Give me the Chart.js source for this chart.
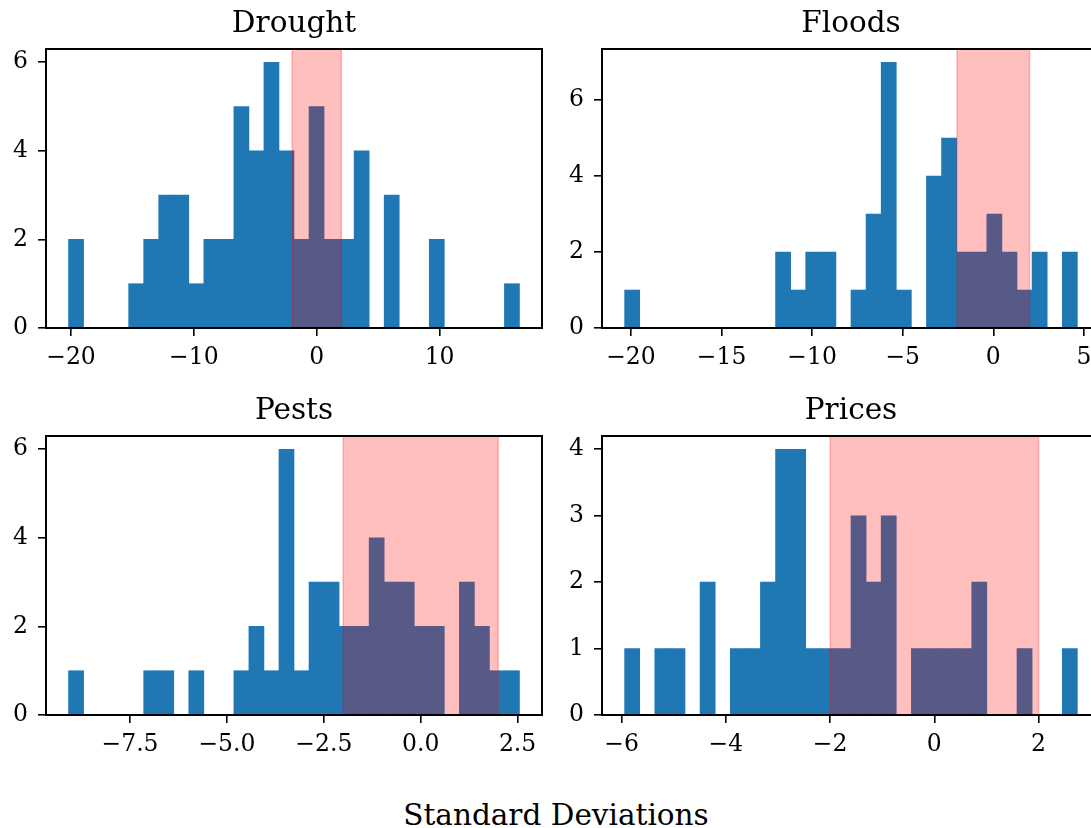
<!DOCTYPE html>
<html>
<head>
<meta charset="utf-8">
<script src="https://cdn.jsdelivr.net/npm/chart.js@4.4.1/dist/chart.umd.min.js"></script>
<style>
  html, body { margin: 0; padding: 0; background: #fff; overflow: hidden; width: 1091px; height: 828px; }
  .panel { position: absolute; width: 560px; height: 380px; }
  #xlabel { position: absolute; left: 0; width: 1112px; top: 801px; text-align: center;
            font-family: 'DejaVu Serif', serif; font-size: 29.5px; line-height: 28px; color: #000; }
</style>
</head>
<body>
<div class="panel" style="left:0;top:0"><canvas id="drought"></canvas></div>
<div class="panel" style="left:560px;top:0"><canvas id="floods"></canvas></div>
<div class="panel" style="left:0;top:387px"><canvas id="pests"></canvas></div>
<div class="panel" style="left:560px;top:387px"><canvas id="prices"></canvas></div>
<div id="xlabel">Standard Deviations</div>
<script>
// histogram counts, 30 bins per panel
const droughtCounts = [2, 0, 0, 0, 1, 2, 3, 3, 1, 2, 2, 5, 4, 6, 4, 2, 5, 2, 2, 4, 0, 3, 0, 0, 2, 0, 0, 0, 0, 1];
const floodsCounts  = [1, 0, 0, 0, 0, 0, 0, 0, 0, 0, 2, 1, 2, 2, 0, 1, 3, 7, 1, 0, 4, 5, 2, 2, 3, 2, 1, 2, 0, 2];
const pestsCounts   = [1, 0, 0, 0, 0, 1, 1, 0, 1, 0, 0, 1, 2, 1, 6, 1, 3, 3, 2, 2, 4, 3, 3, 2, 2, 0, 3, 2, 1, 1];
const pricesCounts  = [1, 0, 1, 1, 0, 2, 0, 1, 1, 2, 4, 4, 1, 1, 1, 3, 2, 3, 0, 1, 1, 1, 1, 2, 0, 0, 1, 0, 0, 1];

// first and last bin edge of each histogram
const droughtEdges = [-20.2, 16.5];
const floodsEdges  = [-20.35, 4.64];
const pestsEdges   = [-9.086, 2.548];
const pricesEdges  = [-5.942, 2.744];

// tick labels
const droughtXTicks = [-20, -10, 0, 10];
const floodsXTicks  = [-20, -15, -10, -5, 0, 5];
const pestsXTicks   = [-7.5, -5, -2.5, 0, 2.5];
const pricesXTicks  = [-6, -4, -2, 0, 2];
const droughtYTicks = [0, 2, 4, 6];
const floodsYTicks  = [0, 2, 4, 6];
const pestsYTicks   = [0, 2, 4, 6];
const pricesYTicks  = [0, 1, 2, 3, 4];

// shaded band (+/- 2 standard deviations)
const band = [-2, 2];

Chart.defaults.font.family = "'DejaVu Serif', serif";
Chart.defaults.color = '#000';

const minus = (s) => String(s).replace('-', '\u2212');

// red band drawn over the bars, then the axes box
const bandPlugin = {
  id: 'band',
  afterDatasetsDraw(chart) {
    const {ctx, chartArea, scales} = chart;
    const x1 = scales.x.getPixelForValue(band[0]);
    const x2 = scales.x.getPixelForValue(band[1]);
    ctx.save();
    ctx.beginPath();
    ctx.rect(chartArea.left, chartArea.top, chartArea.width, chartArea.height);
    ctx.clip();
    ctx.fillStyle = 'rgba(255,0,0,0.25)';
    ctx.fillRect(x1, chartArea.top, x2 - x1, chartArea.height);
    ctx.strokeStyle = 'rgba(255,0,0,0.25)';
    ctx.lineWidth = 1.5;
    ctx.strokeRect(x1, chartArea.top, x2 - x1, chartArea.height);
    ctx.restore();
  },
  afterDraw(chart) {
    const {ctx, chartArea} = chart;
    ctx.save();
    ctx.strokeStyle = '#000';
    ctx.lineWidth = 2;
    ctx.strokeRect(chartArea.left, chartArea.top, chartArea.width, chartArea.height);
    ctx.restore();
  }
};

function histogram(id, title, counts, edges, xTicks, yTicks, decimals, yAxisWidth, padRight) {
  const n = counts.length;
  const w = (edges[1] - edges[0]) / n;
  const pts = counts.map((c, i) => ({x: edges[0] + (i + 0.5) * w, y: c}));
  const span = edges[1] - edges[0];
  const ymax = Math.max(...counts) * 1.05;

  return new Chart(document.getElementById(id), {
    type: 'bar',
    data: {
      datasets: [{
        data: pts,
        backgroundColor: '#1f77b4',
        borderWidth: 0,
        barPercentage: 1,
        categoryPercentage: 1,
      }]
    },
    options: {
      responsive: true,
      maintainAspectRatio: false,
      animation: false,
      layout: { padding: { left: 0, right: padRight, top: 7, bottom: 0 } },
      plugins: {
        legend: { display: false },
        tooltip: { enabled: false },
        title: {
          display: true,
          text: title,
          fullSize: false,
          color: '#000',
          font: { size: 29.5, weight: 'normal' },
          padding: { top: 0, bottom: 6.6 }
        }
      },
      scales: {
        x: {
          type: 'linear',
          offset: false,
          min: edges[0] - 0.05 * span,
          max: edges[1] + 0.05 * span,
          afterBuildTicks: (s) => { s.ticks = xTicks.map(v => ({value: v})); },
          afterFit: (s) => { s.height = 52; },
          grid: { offset: false, drawOnChartArea: false, drawTicks: true, tickLength: 8, color: '#000', lineWidth: 1.6 },
          border: { display: true, color: '#000', width: 2 },
          ticks: {
            font: { size: 23.5 },
            padding: 8,
            maxRotation: 0,
            autoSkip: false,
            callback: (v) => minus(v.toFixed(decimals))
          }
        },
        y: {
          min: 0,
          max: ymax,
          afterBuildTicks: (s) => { s.ticks = yTicks.map(v => ({value: v})); },
          afterFit: (s) => { s.width = yAxisWidth; },
          grid: { drawOnChartArea: false, drawTicks: true, tickLength: 8, color: '#000', lineWidth: 1.6 },
          border: { display: true, color: '#000', width: 2 },
          ticks: {
            font: { size: 23.5 },
            padding: 10,
            autoSkip: false,
            callback: (v) => minus(v)
          }
        }
      }
    },
    plugins: [bandPlugin]
  });
}

histogram('drought', 'Drought', droughtCounts, droughtEdges, droughtXTicks, droughtYTicks, 0, 46, 18);
histogram('floods', 'Floods', floodsCounts, floodsEdges, floodsXTicks, floodsYTicks, 0, 42, 20);
histogram('pests', 'Pests', pestsCounts, pestsEdges, pestsXTicks, pestsYTicks, 1, 46, 18);
histogram('prices', 'Prices', pricesCounts, pricesEdges, pricesXTicks, pricesYTicks, 0, 42, 20);
</script>
</body>
</html>
